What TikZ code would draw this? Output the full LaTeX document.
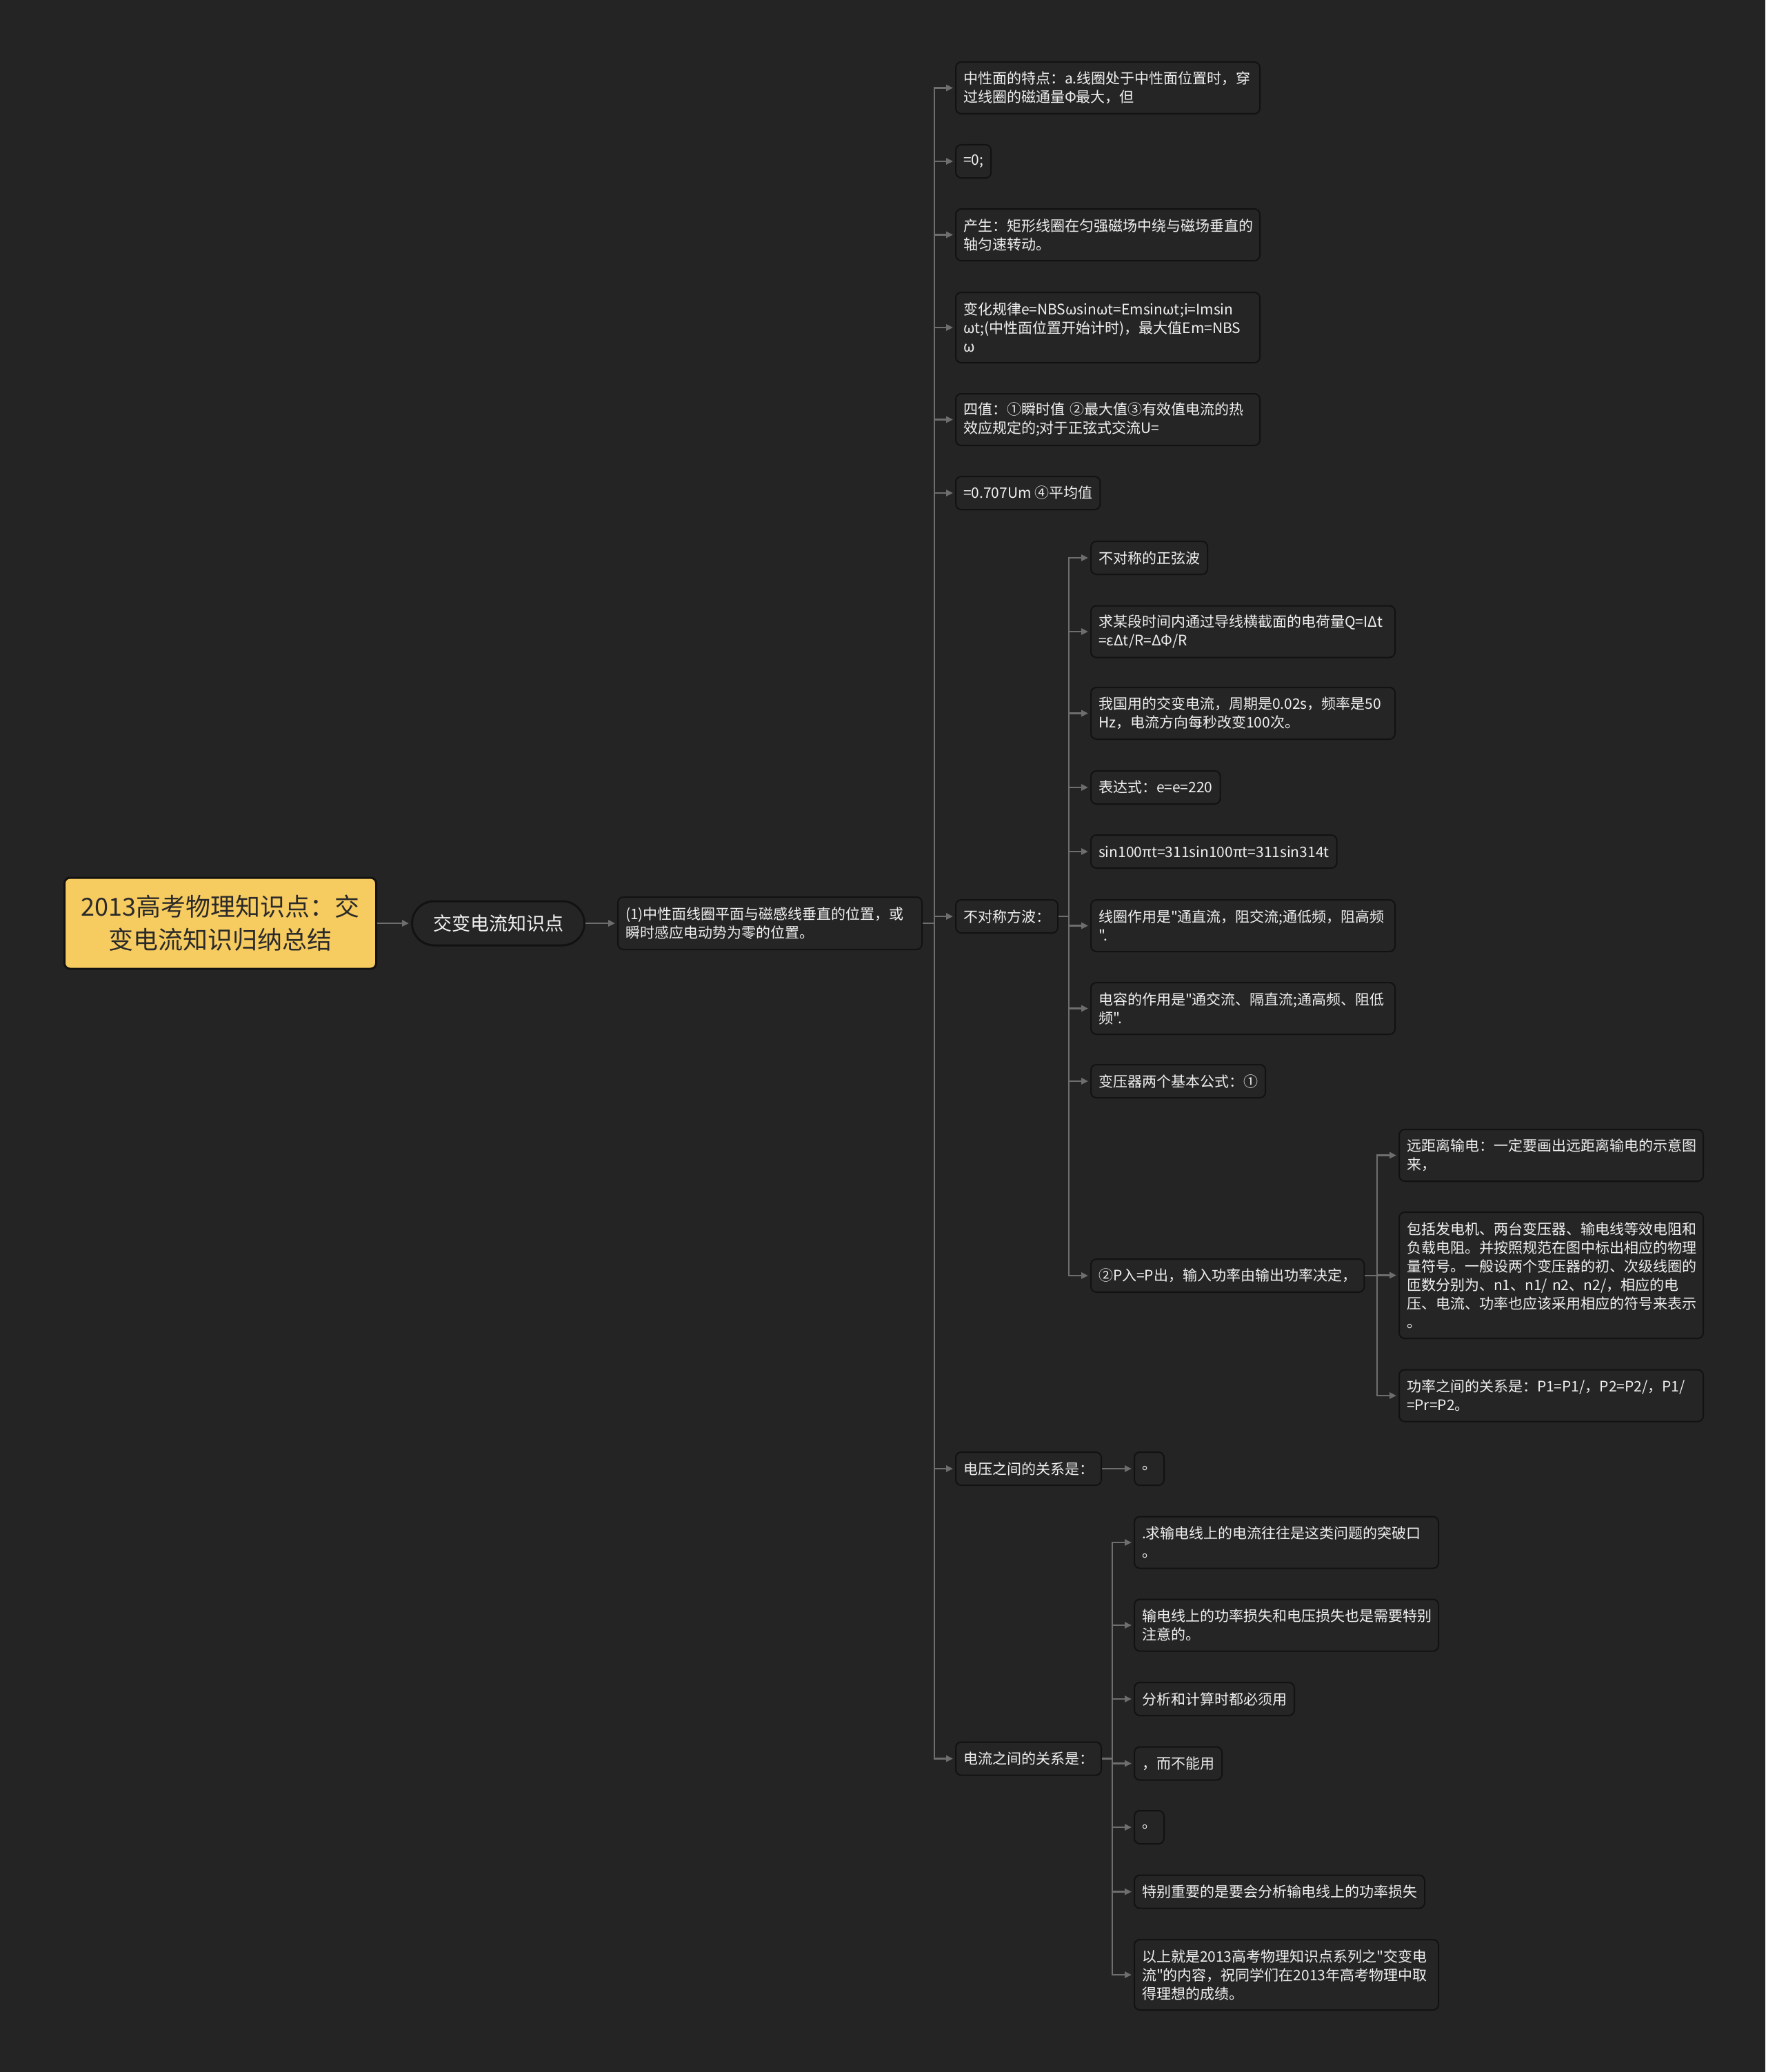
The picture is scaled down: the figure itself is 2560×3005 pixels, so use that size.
\documentclass[tikz,border=0pt]{standalone}
\usepackage{fontspec}
\setmainfont{Noto Sans CJK SC}[Ligatures=TeXOff]
\usetikzlibrary{arrows.meta}
\definecolor{bgc}{HTML}{242424}
\definecolor{boxfill}{HTML}{252525}
\definecolor{boxline}{HTML}{121212}
\definecolor{linec}{HTML}{6E6E6E}
\definecolor{txt}{HTML}{F0F0F0}
\definecolor{rootfill}{HTML}{F6CB5F}
\definecolor{roottxt}{HTML}{2A2A2A}
\begin{document}
\begin{tikzpicture}[x=1pt,y=-1pt,
  singlebox/.style={draw=boxline, line width=2pt, fill=boxfill, rounded corners=8pt,
    text=txt, font=\fontsize{21}{27}\selectfont, inner xsep=11pt, inner ysep=0pt,
    minimum height=48pt, anchor=west},
  multibox/.style={singlebox, text width=419pt, align=left},
  rootbox/.style={draw=boxline, line width=3pt, fill=rootfill, rounded corners=8pt,
    text=roottxt, font=\fontsize{36}{48}\selectfont, align=center, text width=430pt,
    inner xsep=11pt, minimum height=132pt, anchor=west},
  pillbox/.style={draw=boxline, line width=3pt, fill=boxfill, rounded corners=32pt,
    text=txt, font=\fontsize{27}{34}\selectfont, minimum width=250pt, minimum height=64pt,
    anchor=west},
  conn/.style={draw=linec, line width=2.5pt},
  arr/.style={conn, -{Triangle[length=10pt,width=9pt]}, shorten >=3pt},
]
\fill[bgc] (0,0) rectangle (2560,3005);
\useasboundingbox (0,0) rectangle (2560,3005);

% root and level 1/2
\node[rootbox] (root) at (92,1339) {2013高考物理知识点：交\\变电流知识归纳总结};
\node[pillbox] (l1) at (596,1339) {交变电流知识点};
\node[multibox, minimum height=76pt] (l2) at (895,1339) {(1)中性面线圈平面与磁感线垂直的位置，或\\瞬时感应电动势为零的位置。};

% level 3
\node[multibox, minimum height=75pt] (a1) at (1385,127.5) {中性面的特点：a.线圈处于中性面位置时，穿\\过线圈的磁通量Φ最大，但};
\node[singlebox] (a2) at (1385,234) {=0;};
\node[multibox, minimum height=75pt] (a3) at (1385,340.5) {产生：矩形线圈在匀强磁场中绕与磁场垂直的\\轴匀速转动。};
\node[multibox, minimum height=102pt] (a4) at (1385,475) {变化规律e=NBSωsinωt=Emsinωt;i=Imsin\\ωt;(中性面位置开始计时)，最大值Em=NBS\\ω};
\node[multibox, minimum height=75pt] (a5) at (1385,608.5) {四值：①瞬时值 ②最大值③有效值电流的热\\效应规定的;对于正弦式交流U=};
\node[singlebox] (a6) at (1385,715) {=0.707Um ④平均值};
\node[singlebox] (a7) at (1385,1329) {不对称方波：};
\node[singlebox] (a8) at (1385,2130) {电压之间的关系是：};
\node[singlebox] (a9) at (1385,2550.5) {电流之间的关系是：};

% level 4 under a7
\node[singlebox] (b1) at (1581,809) {不对称的正弦波};
\node[multibox, minimum height=75pt] (b2) at (1581,916) {求某段时间内通过导线横截面的电荷量Q=IΔt\\=εΔt/R=ΔΦ/R};
\node[multibox, minimum height=75pt] (b3) at (1581,1034.5) {我国用的交变电流，周期是0.02s，频率是50\\Hz，电流方向每秒改变100次。};
\node[singlebox] (b4) at (1581,1142) {表达式：e=e=220};
\node[singlebox] (b5) at (1581,1235) {sin100πt=311sin100πt=311sin314t};
\node[multibox, minimum height=75pt] (b6) at (1581,1342.5) {线圈作用是"通直流，阻交流;通低频，阻高频\\".};
\node[multibox, minimum height=75pt] (b7) at (1581,1462.5) {电容的作用是"通交流、隔直流;通高频、阻低\\频".};
\node[singlebox] (b8) at (1581,1568) {变压器两个基本公式：①};
\node[singlebox] (b9) at (1581,1850) {②P入=P出，输入功率由输出功率决定，};

% level 5 under b9
\node[multibox, minimum height=75pt] (c1) at (2028,1675.5) {远距离输电：一定要画出远距离输电的示意图\\来，};
\node[multibox, minimum height=183pt] (c2) at (2028,1849.5) {包括发电机、两台变压器、输电线等效电阻和\\负载电阻。并按照规范在图中标出相应的物理\\量符号。一般设两个变压器的初、次级线圈的\\匝数分别为、n1、n1/ n2、n2/，相应的电\\压、电流、功率也应该采用相应的符号来表示\\。};
\node[multibox, minimum height=75pt] (c3) at (2028,2024) {功率之间的关系是：P1=P1/，P2=P2/，P1/\\=Pr=P2。};

% under a8
\node[singlebox] (d1) at (1644,2130) {。};

% under a9
\node[multibox, minimum height=75pt] (e1) at (1644,2237) {.求输电线上的电流往往是这类问题的突破口\\。};
\node[multibox, minimum height=75pt] (e2) at (1644,2357) {输电线上的功率损失和电压损失也是需要特别\\注意的。};
\node[singlebox] (e3) at (1644,2464) {分析和计算时都必须用};
\node[singlebox] (e4) at (1644,2557.5) {，而不能用};
\node[singlebox] (e5) at (1644,2650) {。};
\node[singlebox] (e6) at (1644,2743.5) {特别重要的是要会分析输电线上的功率损失};
\node[multibox, minimum height=102pt] (e7) at (1644,2864) {以上就是2013高考物理知识点系列之"交变电\\流"的内容，祝同学们在2013年高考物理中取\\得理想的成绩。};

% trunk coordinates
\coordinate (t1) at (1355,1339);
\coordinate (t2) at (1550,1329);
\coordinate (t3) at (1997,1850);
\coordinate (t4) at (1613,2550.5);

% connectors
\draw[arr] (root.east) -- (l1.west);
\draw[arr] (l1.east) -- (l2.west);
\foreach \c in {a1,a2,a3,a4,a5,a6,a7,a8,a9}
  \draw[arr] (l2.east) -- (t1) |- (\c.west);
\foreach \c in {b1,b2,b3,b4,b5,b6,b7,b8,b9}
  \draw[arr] (a7.east) -- (t2) |- (\c.west);
\foreach \c in {c1,c2,c3}
  \draw[arr] (b9.east) -- (t3) |- (\c.west);
\draw[arr] (a8.east) -- (d1.west);
\foreach \c in {e1,e2,e3,e4,e5,e6,e7}
  \draw[arr] (a9.east) -- (t4) |- (\c.west);
\end{tikzpicture}
\end{document}
